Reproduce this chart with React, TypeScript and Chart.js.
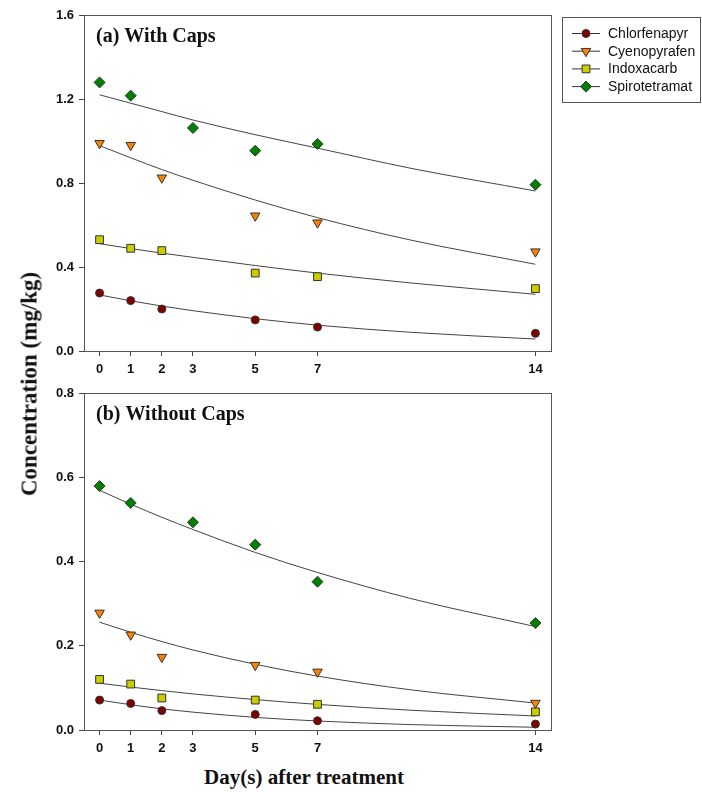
import React, { useEffect, useRef } from 'react';
import { Chart, registerables } from 'chart.js';
Chart.register(...registerables);

// ---------- data ----------
const seriesNames = ['Chlorfenapyr', 'Cyenopyrafen', 'Indoxacarb', 'Spirotetramat'];
const days = [0, 1, 2, 3, 5, 7, 14];
const xTickValues = [0, 1, 2, 3, 5, 7, 14];
const fitDays = [0, 1, 2, 3, 5, 7, 10, 14];

// (a) With Caps
const chlorA = [0.276, 0.240, 0.200, null, 0.148, 0.114, 0.084];
const cyenoA = [0.989, 0.980, 0.825, null, 0.644, 0.611, 0.473];
const indoxA = [0.530, 0.489, 0.478, null, 0.371, 0.354, 0.297];
const spiroA = [1.279, 1.216, null, 1.062, 0.954, 0.986, 0.792];
const chlorFitA = [0.267, 0.239, 0.214, 0.192, 0.154, 0.123, 0.089, 0.057];
const cyenoFitA = [0.978, 0.920, 0.864, 0.813, 0.719, 0.635, 0.528, 0.413];
const indoxFitA = [0.511, 0.488, 0.466, 0.446, 0.407, 0.371, 0.324, 0.270];
const spiroFitA = [1.220, 1.180, 1.140, 1.100, 1.030, 0.966, 0.870, 0.762];
const yTicksA = [0, 0.4, 0.8, 1.2, 1.6];

// (b) Without Caps
const chlorB = [0.071, 0.063, 0.046, null, 0.037, 0.022, 0.014];
const cyenoB = [0.278, 0.226, 0.173, null, 0.154, 0.138, 0.064];
const indoxB = [0.120, 0.109, 0.076, null, 0.071, 0.061, 0.043];
const spiroB = [0.579, 0.539, null, 0.493, 0.440, 0.352, 0.254];
const chlorFitB = [0.071, 0.060, 0.0503, 0.0424, 0.030, 0.0214, 0.0128, 0.0065];
const cyenoFitB = [0.256, 0.232, 0.210, 0.190, 0.156, 0.128, 0.0953, 0.064];
const indoxFitB = [0.111, 0.102, 0.0935, 0.0857, 0.0722, 0.0608, 0.0469, 0.0333];
const spiroFitB = [0.569, 0.536, 0.505, 0.476, 0.4215, 0.374, 0.312, 0.2455];
const yTicksB = [0, 0.2, 0.4, 0.6, 0.8];

const panelTitles = ['(a) With Caps', '(b) Without Caps'];
const yAxisTitle = 'Concentration (mg/kg)';
const xAxisTitle = 'Day(s) after treatment';

// ---------- styles ----------
const fillColors = ['#800000', '#FF8000', '#CCCC00', '#008000'];
const pointStyles = ['circle', 'triangle', 'rect', 'rectRot'];
const pointRotations = [0, 180, 0, 0];
const pointRadii = [4, 5.5, 5.5, 5.5];
const markerBorder = '#333';
const fitColor = '#444';

function drawMarker(ctx: CanvasRenderingContext2D, i: number, x: number, y: number) {
  const r = pointRadii[i];
  ctx.beginPath();
  if (i === 0) {
    ctx.arc(x, y, r, 0, Math.PI * 2);
  } else if (i === 1) {
    const s = r * Math.sin(Math.PI / 3);
    ctx.moveTo(x, y + r);
    ctx.lineTo(x - s, y - r / 2);
    ctx.lineTo(x + s, y - r / 2);
    ctx.closePath();
  } else if (i === 2) {
    const h = r * Math.SQRT1_2;
    ctx.rect(x - h, y - h, 2 * h, 2 * h);
  } else {
    ctx.moveTo(x, y - r);
    ctx.lineTo(x + r, y);
    ctx.lineTo(x, y + r);
    ctx.lineTo(x - r, y);
    ctx.closePath();
  }
  ctx.fillStyle = fillColors[i];
  ctx.fill();
  ctx.strokeStyle = markerBorder;
  ctx.lineWidth = 1;
  ctx.stroke();
}

const framePlugin = {
  id: 'frame',
  afterDraw(chart: any, _args: any, opts: any) {
    const { ctx, chartArea: a } = chart;
    ctx.save();
    ctx.strokeStyle = '#555';
    ctx.lineWidth = 1;
    ctx.strokeRect(Math.round(a.left) + 0.5, Math.round(a.top) + 0.5, Math.round(a.right - a.left), Math.round(a.bottom - a.top));
    ctx.fillStyle = '#111';
    ctx.font = 'bold 20px "Liberation Serif"';
    ctx.textBaseline = 'alphabetic';
    ctx.textAlign = 'left';
    ctx.fillText(opts.title, a.left + 12, a.top + 27);
    if (opts.legend) {
      ctx.strokeStyle = '#555';
      ctx.strokeRect(562.5, 17.5, 138, 85);
      ctx.font = '14px "Liberation Sans"';
      ctx.textBaseline = 'middle';
      seriesNames.forEach((name, i) => {
        const y = 33.5 + i * 17.7;
        ctx.beginPath();
        ctx.strokeStyle = '#333';
        ctx.lineWidth = 1;
        ctx.moveTo(572, y);
        ctx.lineTo(600, y);
        ctx.stroke();
        drawMarker(ctx, i, 586, y);
        ctx.fillStyle = '#111';
        ctx.fillText(name, 608, y + 0.5);
      });
    }
    ctx.restore();
  },
};

function buildChart(canvas: HTMLCanvasElement, p: any) {
  const pts = p.points.map((vals: (number | null)[], i: number) => ({
    data: days.map((d, j) => ({ x: d, y: vals[j] })).filter((q) => q.y !== null),
    showLine: false,
    pointStyle: pointStyles[i],
    rotation: pointRotations[i],
    pointRadius: pointRadii[i],
    pointHoverRadius: pointRadii[i],
    backgroundColor: fillColors[i],
    borderColor: markerBorder,
    pointBorderWidth: 1,
  }));
  const fits = p.fits.map((vals: number[]) => ({
    data: fitDays.map((d, j) => ({ x: d, y: vals[j] })),
    showLine: true,
    borderColor: fitColor,
    borderWidth: 1,
    pointRadius: 0,
    cubicInterpolationMode: 'monotone',
    fill: false,
  }));
  const tickFont = { family: '"Liberation Sans"', size: 13, weight: 'bold' as const };
  return new Chart(canvas, {
    type: 'scatter',
    data: { datasets: [...pts, ...fits] },
    plugins: [framePlugin],
    options: {
      responsive: false,
      animation: false,
      devicePixelRatio: 1,
      layout: { padding: { left: 0, right: 151, top: p.padTop, bottom: 0 } },
      plugins: {
        legend: { display: false },
        tooltip: { enabled: false },
        frame: { title: p.title, legend: p.legend },
      } as any,
      scales: {
        x: {
          type: 'linear',
          min: -0.5,
          max: 14.5,
          afterBuildTicks: (s: any) => { s.ticks = xTickValues.map((v) => ({ value: v })); },
          afterFit: (s: any) => { s.height = p.xHeight; },
          border: { display: false },
          grid: { drawOnChartArea: false, drawTicks: true, tickLength: 5, tickColor: '#444' },
          ticks: { font: tickFont, color: '#111', padding: 6, maxRotation: 0, autoSkip: false, callback: (v: any) => String(v) },
        },
        y: {
          type: 'linear',
          min: 0,
          max: p.yTicks[p.yTicks.length - 1],
          afterBuildTicks: (s: any) => { s.ticks = p.yTicks.map((v: number) => ({ value: v })); },
          afterFit: (s: any) => { s.width = 84; },
          border: { display: false },
          grid: { drawOnChartArea: false, drawTicks: true, tickLength: 5, tickColor: '#444' },
          ticks: { font: tickFont, color: '#111', padding: 5, callback: (v: any) => Number(v).toFixed(1) },
        },
      },
    } as any,
  });
}

export default function App() {
  const topRef = useRef<HTMLCanvasElement>(null);
  const botRef = useRef<HTMLCanvasElement>(null);
  useEffect(() => {
    const c1 = buildChart(topRef.current!, {
      title: panelTitles[0],
      legend: true,
      points: [chlorA, cyenoA, indoxA, spiroA],
      fits: [chlorFitA, cyenoFitA, indoxFitA, spiroFitA],
      yTicks: yTicksA,
      padTop: 15,
      xHeight: 29,
    });
    const c2 = buildChart(botRef.current!, {
      title: panelTitles[1],
      legend: false,
      points: [chlorB, cyenoB, indoxB, spiroB],
      fits: [chlorFitB, cyenoFitB, indoxFitB, spiroFitB],
      yTicks: yTicksB,
      padTop: 13,
      xHeight: 30,
    });
    return () => { c1.destroy(); c2.destroy(); };
  }, []);
  return (
    <div style={{ position: 'absolute', left: 0, top: 0, width: 702, height: 792, background: '#fff', overflow: 'hidden' }}>
      <canvas ref={topRef} width={702} height={380} style={{ position: 'absolute', left: 0, top: 0, width: 702, height: 380 }} />
      <canvas ref={botRef} width={702} height={380} style={{ position: 'absolute', left: 0, top: 380, width: 702, height: 380 }} />
      <div style={{
        position: 'absolute', left: 29, top: 384, transform: 'translate(-50%, -50%) rotate(-90deg)',
        whiteSpace: 'nowrap', fontFamily: '"Liberation Serif"', fontWeight: 'bold', fontSize: 23, lineHeight: 1, color: '#111',
      }}>{yAxisTitle}</div>
      <div style={{
        position: 'absolute', left: 304, top: 777, transform: 'translate(-50%, -50%)',
        whiteSpace: 'nowrap', fontFamily: '"Liberation Serif"', fontWeight: 'bold', fontSize: 21, lineHeight: 1, color: '#111',
      }}>{xAxisTitle}</div>
    </div>
  );
}
